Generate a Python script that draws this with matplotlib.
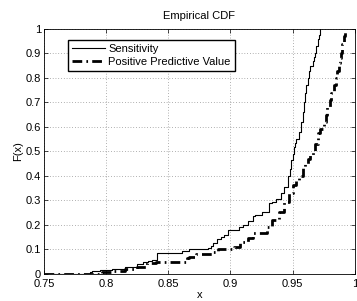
import matplotlib
matplotlib.use("Agg")
import matplotlib.pyplot as plt
import numpy as np

plt.rcParams['font.family'] = ['Liberation Sans', 'DejaVu Sans']
plt.rcParams['font.size'] = 8

# step points of the two empirical CDFs (x, F)
sens_x = [0.75, 0.787, 0.789, 0.795, 0.805, 0.815, 0.825, 0.830, 0.834, 0.837,
          0.841, 0.861, 0.867, 0.882, 0.884, 0.886, 0.889, 0.892, 0.895, 0.898,
          0.907, 0.910, 0.914, 0.918, 0.920, 0.925, 0.931, 0.933, 0.937, 0.941,
          0.943, 0.946, 0.948, 0.949, 0.950, 0.951, 0.952, 0.953, 0.955, 0.957,
          0.958, 0.959, 0.960, 0.961, 0.962, 0.963, 0.964, 0.966, 0.967, 0.968,
          0.969, 0.970, 0.971, 0.972]
sens_f = [0.0, 0.007, 0.012, 0.016, 0.022, 0.030, 0.040, 0.047, 0.053, 0.058,
          0.085, 0.092, 0.102, 0.105, 0.115, 0.125, 0.142, 0.150, 0.159, 0.180,
          0.190, 0.200, 0.218, 0.237, 0.240, 0.254, 0.290, 0.295, 0.306, 0.330,
          0.356, 0.400, 0.430, 0.465, 0.490, 0.520, 0.535, 0.550, 0.580, 0.620,
          0.660, 0.700, 0.740, 0.770, 0.800, 0.830, 0.850, 0.870, 0.885, 0.900,
          0.930, 0.960, 0.975, 1.0]

ppv_x = [0.75, 0.797, 0.805, 0.815, 0.825, 0.833, 0.840, 0.865, 0.867, 0.872,
         0.885, 0.890, 0.903, 0.908, 0.914, 0.918, 0.929, 0.933, 0.939, 0.943,
         0.947, 0.950, 0.953, 0.955, 0.958, 0.960, 0.962, 0.964, 0.966, 0.968,
         0.970, 0.972, 0.975, 0.977, 0.978, 0.980, 0.981, 0.983, 0.985, 0.986,
         0.987, 0.988, 0.989, 0.990, 0.991, 0.992]
ppv_f = [0.0, 0.008, 0.012, 0.020, 0.029, 0.045, 0.050, 0.065, 0.070, 0.080,
         0.090, 0.100, 0.111, 0.132, 0.147, 0.167, 0.190, 0.220, 0.254, 0.295,
         0.330, 0.363, 0.384, 0.400, 0.438, 0.450, 0.470, 0.486, 0.500, 0.530,
         0.574, 0.590, 0.620, 0.650, 0.680, 0.710, 0.740, 0.770, 0.800, 0.830,
         0.860, 0.880, 0.900, 0.940, 0.970, 1.0]

xticks = [0.75, 0.8, 0.85, 0.9, 0.95, 1.0]
xtick_labels = ['0.75', '0.8', '0.85', '0.9', '0.95', '1']
yticks = np.round(np.arange(0, 1.01, 0.1), 1)
ytick_labels = ['0', '0.1', '0.2', '0.3', '0.4', '0.5', '0.6', '0.7', '0.8', '0.9', '1']

fig = plt.figure(figsize=(3.57, 3.01), dpi=100)
ax = fig.add_axes([0.123, 0.0897, 0.871, 0.814])

ax.plot(sens_x, sens_f, color='black', linewidth=0.8, drawstyle='steps-post',
        label='Sensitivity')
ax.plot(ppv_x, ppv_f, color='black', linewidth=2.0, drawstyle='steps-post',
        linestyle=(0, (3.5, 1.5, 0.6, 1.5)), label='Positive Predictive Value')

ax.set_xlim(0.75, 1.0)
ax.set_ylim(0, 1)
ax.set_xticks(xticks)
ax.set_xticklabels(xtick_labels)
ax.set_yticks(yticks)
ax.set_yticklabels(ytick_labels)
ax.tick_params(direction='in', top=True, right=True, length=3, width=0.5, pad=2)
ax.tick_params(axis='x', pad=3.5)
ax.grid(True, linestyle=(0, (1, 3)), color='black', linewidth=0.5, alpha=0.6)
for s in ax.spines.values():
    s.set_linewidth(0.6)

ax.set_title('Empirical CDF', fontsize=8, pad=7)
ax.set_xlabel('x', labelpad=1)
ax.set_ylabel('F(x)', labelpad=2)

leg = ax.legend(loc='upper left', bbox_to_anchor=(0.077, 0.955), borderaxespad=0,
                fancybox=False, edgecolor='black', framealpha=1, handlelength=3.0,
                borderpad=0.35, labelspacing=0.3, handletextpad=0.3, fontsize=8)
leg.get_frame().set_linewidth(1.0)

fig.savefig('out.png', dpi=100)
